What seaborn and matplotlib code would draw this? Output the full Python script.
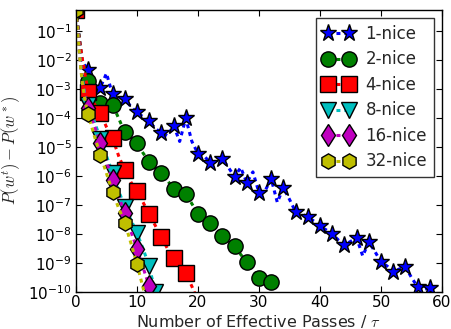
import numpy as np
import pandas as pd
import matplotlib
matplotlib.use('Agg')
import matplotlib.pyplot as plt
import seaborn as sns

# exponents (value = 10 ** exponent)
# 1-nice
n1_x = [0, 1, 2, 3, 4, 5, 6, 7, 8, 9, 10, 11, 12, 13, 14, 15, 16, 17, 18, 19,
        20, 21, 22, 23, 24, 25, 26, 27, 28, 29, 30, 31, 32, 33, 34, 35, 36, 37,
        38, 39, 40, 41, 42, 43, 44, 45, 46, 47, 48, 49, 50, 51, 52, 53, 54, 55,
        56, 57, 58]
n1_exp = [-0.26, -2.0, -2.35, -2.85, -2.94, -2.45, -3.18, -3.4, -3.32, -3.6,
          -3.80, -3.95, -4.11, -4.35, -4.50, -4.6, -4.25, -4.8, -4.00, -4.8,
          -5.22, -5.3, -5.53, -5.5, -5.40, -5.7, -6.02, -5.7, -6.22, -5.85,
          -6.57, -6.5, -6.09, -6.9, -6.40, -6.8, -7.23, -7.3, -7.40, -7.55,
          -7.73, -7.85, -7.99, -8.2, -8.37, -8.25, -8.13, -8.75, -8.27, -8.6,
          -8.96, -9.1, -9.30, -9.2, -9.13, -9.5, -9.82, -9.9, -9.86]
n1_marks = list(range(0, 59, 2))

# 2-nice
n2_x = [0, 1, 2, 3, 4, 5, 6, 7, 8, 9, 10, 11, 12, 13, 14, 15, 16, 17, 18, 19,
        20, 21, 22, 23, 24, 25, 26, 27, 28, 29, 30, 31, 32, 33]
n2_exp = [-0.26, -2.0, -2.73, -3.2, -3.46, -3.5, -3.53, -4.0, -4.49, -4.7,
          -4.86, -5.2, -5.5, -5.7, -5.88, -6.15, -6.43, -6.5, -6.6, -6.95,
          -7.30, -7.45, -7.61, -7.85, -8.06, -8.25, -8.40, -8.7, -8.96, -9.25,
          -9.51, -9.6, -9.65, -10.2]
n2_marks = list(range(0, 33, 2))

# 4-nice
n4_x = [0, 0.5, 1, 2, 3, 4, 5, 6, 7, 8, 9, 10, 11, 12, 13, 14, 15, 16, 17, 18,
        19, 20]
n4_exp = [-0.26, -1.2, -1.9, -3.08, -3.5, -3.82, -4.3, -4.68, -5.3, -5.79,
          -6.2, -6.52, -6.9, -7.32, -7.7, -8.09, -8.5, -8.82, -9.1, -9.34,
          -9.8, -10.3]
n4_marks = list(range(0, 19, 2))

# 8-nice
n8_x = [0, 0.25, 0.5, 0.75, 1, 1.5, 2, 3, 4, 5, 6, 7, 8, 9, 10, 11, 12, 13]
n8_exp = [-0.26, -0.8, -1.5, -2.1, -2.6, -3.2, -3.53, -4.1, -4.70, -5.3, -5.88,
          -6.5, -7.06, -7.5, -7.96, -8.5, -9.1, -10.0]
n8_marks = [0, 2, 4, 6, 8, 10, 12, 13]

# 16-nice
n16_x = [0, 0.25, 0.5, 0.75, 1, 1.5, 2, 3, 4, 5, 6, 7, 8, 9, 10, 11, 12, 12.5]
n16_exp = [-0.26, -0.85, -1.55, -2.15, -2.65, -3.3, -3.65, -4.25, -4.84, -5.5,
           -6.12, -6.7, -7.27, -7.9, -8.5, -9.15, -9.79, -10.2]
n16_marks = [0, 2, 4, 6, 8, 10, 12]

# 32-nice
n32_x = [0, 0.25, 0.5, 0.75, 1, 1.5, 2, 3, 4, 5, 6, 7, 8, 9, 10, 11, 11.5]
n32_exp = [-0.26, -0.9, -1.6, -2.2, -2.7, -3.4, -3.87, -4.6, -5.26, -5.9,
           -6.54, -7.1, -7.6, -8.3, -9.03, -9.85, -10.3]
n32_marks = [0, 2, 4, 6, 8, 10]

series = [
    ('1-nice', n1_x, n1_exp, n1_marks, (0, 0, 1), '*', 12.5),
    ('2-nice', n2_x, n2_exp, n2_marks, (0, 0.5, 0), 'o', 11),
    ('4-nice', n4_x, n4_exp, n4_marks, (1, 0, 0), 's', 11),
    ('8-nice', n8_x, n8_exp, n8_marks, (0, 0.75, 0.75), 'v', 11),
    ('16-nice', n16_x, n16_exp, n16_marks, (0.75, 0, 0.75), 'd', 11.5),
    ('32-nice', n32_x, n32_exp, n32_marks, (0.75, 0.75, 0), 'h', 11),
]

sns.set_style('ticks')
plt.rcParams['font.family'] = ['DejaVu Sans']
plt.rcParams['mathtext.fontset'] = 'cm'
plt.rcParams['xtick.direction'] = 'in'
plt.rcParams['ytick.direction'] = 'in'

fig = plt.figure(figsize=(4.52, 3.29), dpi=100)
ax = fig.add_axes([0.168, 0.112, 0.810, 0.858])

for label, xs, ex, marks, col, mk, ms in series:
    df = pd.DataFrame({'x': xs, 'y': [10.0 ** e for e in ex]})
    idx = [i for i, v in enumerate(xs) if v in marks]
    sns.lineplot(data=df, x='x', y='y', ax=ax, color=col, label=label,
                 marker=mk, markersize=ms, markevery=idx,
                 markeredgecolor='k', markeredgewidth=1.0,
                 linestyle=(0, (1.3, 1.3)), linewidth=2.2, sort=False,
                 estimator=None)

ax.set_yscale('log')
ax.set_xlim(0, 60)
ax.set_ylim(1e-10, 10 ** -0.26)
ax.set_xticks([0, 10, 20, 30, 40, 50, 60])
yt = [10.0 ** -k for k in range(10, 0, -1)]
ax.set_yticks(yt)
ax.set_yticklabels([r'$\mathregular{10^{-%d}}$' % k for k in range(10, 0, -1)])
ax.minorticks_off()
ax.tick_params(axis='both', which='major', labelsize=11, length=4, width=0.8,
               top=True, right=True, colors='k')
ax.tick_params(axis='x', pad=2)
ax.tick_params(axis='y', pad=3)
for s in ax.spines.values():
    s.set_color('k')
    s.set_linewidth(1.0)

ax.set_xlabel(r'Number of Effective Passes / $\tau$', fontsize=11.5, labelpad=2)
ax.set_ylabel(r'$P(w^t) - P(w^*)$', fontsize=12, labelpad=4)

leg = ax.legend(loc='upper right', numpoints=2, fontsize=12, frameon=True,
                fancybox=False, handlelength=1.85, borderpad=0.4,
                labelspacing=0.45, handletextpad=0.7, borderaxespad=0.5)
leg.get_frame().set_edgecolor('k')
leg.get_frame().set_linewidth(1.0)

fig.savefig('out.png', dpi=100)
